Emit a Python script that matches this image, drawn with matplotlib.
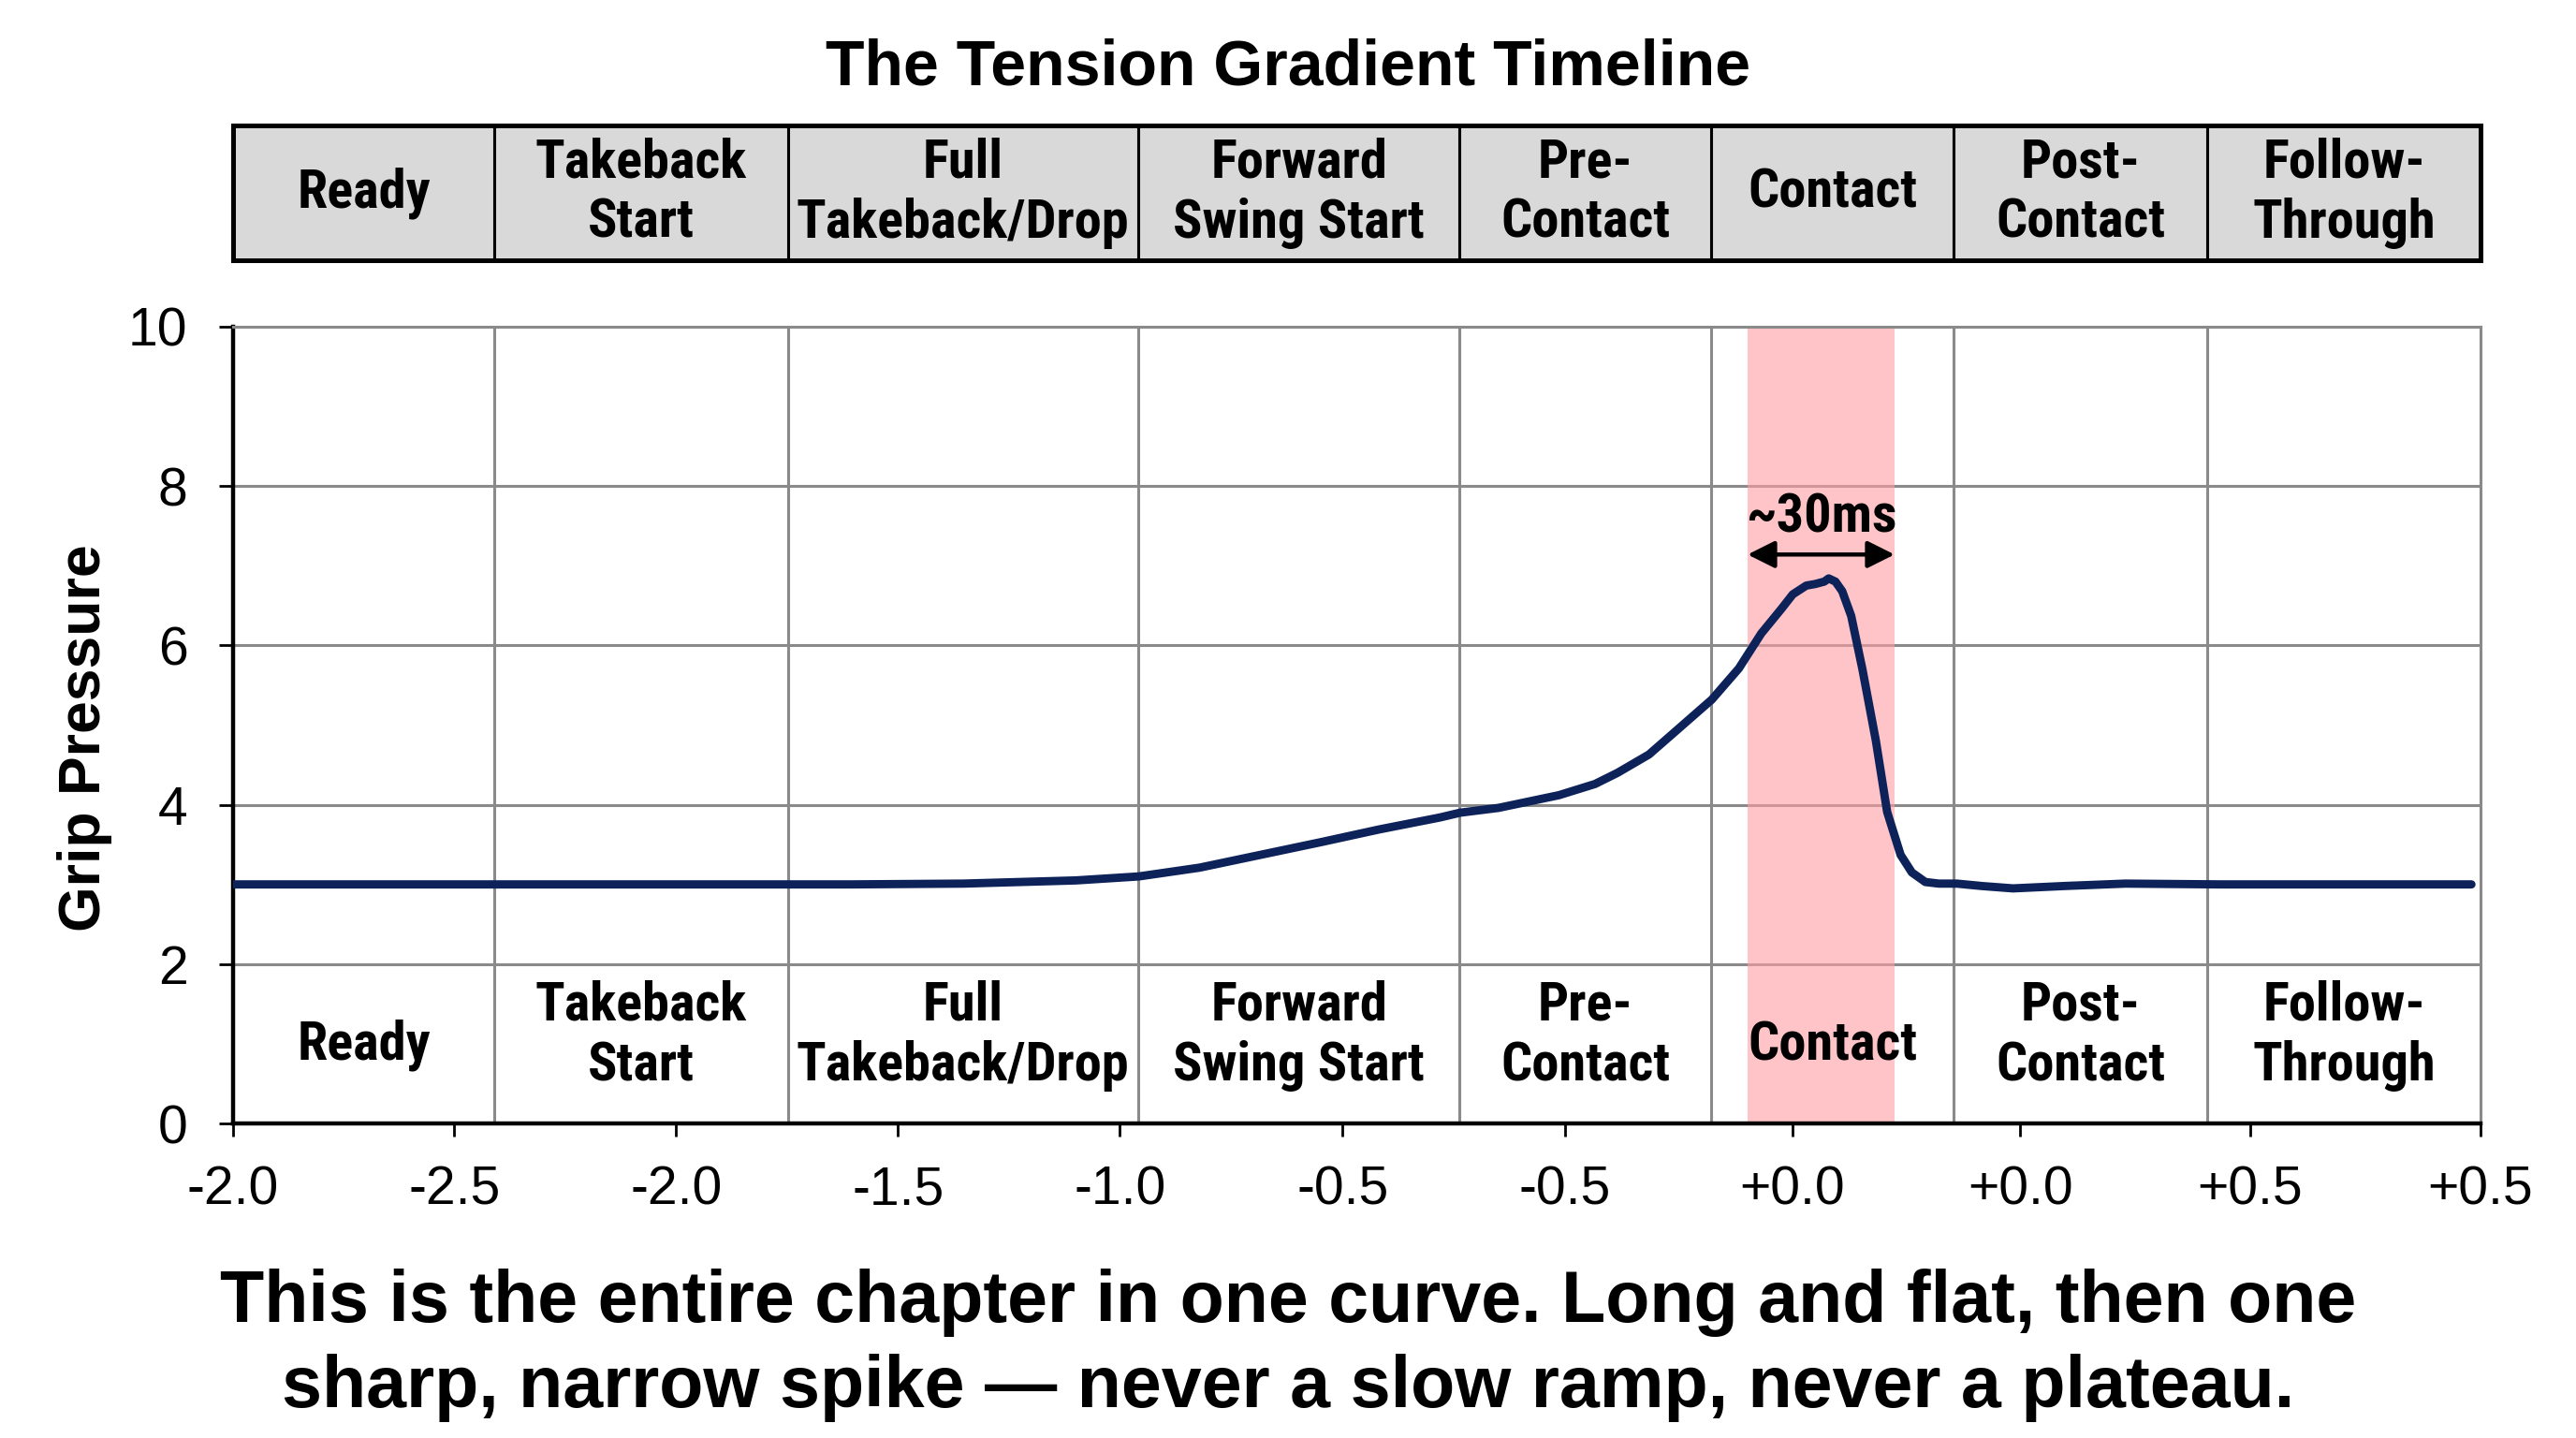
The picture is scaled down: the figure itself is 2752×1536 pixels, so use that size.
import matplotlib
matplotlib.use("Agg")
import matplotlib.pyplot as plt
from matplotlib.patches import Rectangle

plt.rcParams['font.family'] = ['Liberation Sans', 'DejaVu Sans']

# phases (columns of the header and of the lower labels)
PHASES = ["Ready", "Takeback\nStart", "Full\nTakeback/Drop", "Forward\nSwing Start",
          "Pre-\nContact", "Contact", "Post-\nContact", "Follow-\nThrough"]
PHASE_EDGES = [0.0, 1.162, 2.468, 4.027, 5.458, 6.578, 7.655, 8.786, 10.0]

# x ticks as printed in the picture
TICK_POS = [0.0, 0.984, 1.971, 2.959, 3.946, 4.937, 5.926, 6.937, 7.953, 8.975, 10.0]
TICK_LABELS = ["-2.0", "-2.5", "-2.0", "-1.5", "-1.0", "-0.5", "-0.5",
               "+0.0", "+0.0", "+0.5", "+0.5"]

# grip pressure curve
CURVE_X = [0.0, 0.5, 1.0, 1.5, 2.0, 2.5, 2.75, 3.25, 3.75, 4.03, 4.3, 4.57, 4.84,
           5.1, 5.37, 5.46, 5.63, 5.9, 6.06, 6.16, 6.3, 6.43, 6.58, 6.7, 6.8,
           6.89, 6.94, 7.0, 7.04, 7.08, 7.1, 7.13, 7.16, 7.2, 7.25, 7.31, 7.36,
           7.42, 7.47, 7.53, 7.59, 7.67, 7.78, 7.92, 8.15, 8.42, 8.84, 9.3, 9.96]
CURVE_Y = [3.0, 3.0, 3.0, 3.0, 3.0, 3.0, 3.0, 3.01, 3.05, 3.1, 3.21, 3.37, 3.53,
           3.69, 3.84, 3.9, 3.96, 4.12, 4.26, 4.4, 4.63, 4.95, 5.32, 5.71, 6.15,
           6.46, 6.64, 6.75, 6.77, 6.8, 6.84, 6.8, 6.68, 6.37, 5.7, 4.8, 3.91,
           3.37, 3.15, 3.03, 3.01, 3.01, 2.98, 2.95, 2.98, 3.01, 3.0, 3.0, 3.0]

CONTACT_WINDOW = [6.739, 7.393]
WINDOW_LABEL = "~30ms"

TITLE = "The Tension Gradient Timeline"
YLABEL = "Grip Pressure"
CAPTION_LINES = ["This is the entire chapter in one curve. Long and flat, then one",
                 "sharp, narrow spike \u2014 never a slow ramp, never a plateau."]

NAVY = "#0c2259"
GRID = "#8a8a8a"
LABEL_FONT = ['Roboto Condensed', 'Liberation Sans']

fig = plt.figure(figsize=(13.76, 7.68), dpi=200)
fig.patch.set_facecolor("white")

ax = fig.add_axes([0.0905, 0.21875, 0.8724, 0.5541])
hx = fig.add_axes([0.0905, 0.819, 0.8724, 0.0938])

# main plot
ax.set_xlim(0, 10)
ax.set_ylim(0, 10)
ax.set_axisbelow(True)
ax.yaxis.grid(True, color=GRID, lw=1.1)
for b in PHASE_EDGES[1:-1]:
    ax.axvline(b, color=GRID, lw=1.1, zorder=0.5)

ax.axvspan(CONTACT_WINDOW[0], CONTACT_WINDOW[1], ymin=0, ymax=1,
           color="#ff9ea3", alpha=0.6, lw=0, zorder=1)

ax.plot(CURVE_X, CURVE_Y, color=NAVY, lw=3.2, solid_capstyle="round",
        solid_joinstyle="round", zorder=3)

ax.annotate("", xy=(CONTACT_WINDOW[0], 7.14), xytext=(CONTACT_WINDOW[1], 7.14),
            arrowprops=dict(arrowstyle="<|-|>", color="black", lw=1.6,
                            mutation_scale=22, shrinkA=0, shrinkB=0), zorder=4)
ax.text(sum(CONTACT_WINDOW) / 2, 7.6, WINDOW_LABEL, ha="center", va="center",
        fontsize=21, family=LABEL_FONT, fontweight="bold", zorder=4)

for i, name in enumerate(PHASES):
    cx = (PHASE_EDGES[i] + PHASE_EDGES[i + 1]) / 2
    y = 1.1 if "\n" in name else 0.98
    ax.text(cx, y, name, ha="center", va="center", fontsize=21,
            family=LABEL_FONT, fontweight="bold", linespacing=1.22, zorder=4)

ax.set_xticks(TICK_POS)
ax.set_xticklabels(TICK_LABELS)
ax.set_yticks([0, 2, 4, 6, 8, 10])
ax.tick_params(axis="both", labelsize=20.5, width=1.0, color="black")
ax.tick_params(axis="x", length=5, pad=11)
ax.tick_params(axis="y", length=5.5, pad=12)

for s in ["left", "bottom"]:
    ax.spines[s].set_color("black")
    ax.spines[s].set_linewidth(1.6)
for s in ["top", "right"]:
    ax.spines[s].set_color(GRID)
    ax.spines[s].set_linewidth(1.1)

# header strip
hx.set_xlim(0, 10)
hx.set_ylim(0, 1)
hx.axis("off")
for i, name in enumerate(PHASES):
    x0, x1 = PHASE_EDGES[i], PHASE_EDGES[i + 1]
    hx.add_patch(Rectangle((x0, 0), x1 - x0, 1, facecolor="#d9d9d9",
                           edgecolor="black", lw=1.1, clip_on=False))
    hx.text((x0 + x1) / 2, 0.5, name, ha="center", va="center", fontsize=21,
            family=LABEL_FONT, fontweight="bold", linespacing=1.22)
hx.add_patch(Rectangle((0, 0), 10, 1, fill=False, edgecolor="black", lw=1.8,
                       clip_on=False))

# texts
fig.text(0.5, 0.953, TITLE, ha="center", va="center", fontsize=24.5,
         fontweight="bold")
fig.text(0.033, 0.487, YLABEL, ha="center", va="center", rotation=90,
         fontsize=22.5, fontweight="bold")
fig.text(0.5, 1 - 1412 / 1536, CAPTION_LINES[0], ha="center", va="baseline",
         fontsize=27.8, fontweight="bold")
fig.text(0.5, 1 - 1503 / 1536, CAPTION_LINES[1], ha="center", va="baseline",
         fontsize=27.8, fontweight="bold")

fig.savefig("out.png", dpi=200, facecolor="white")
